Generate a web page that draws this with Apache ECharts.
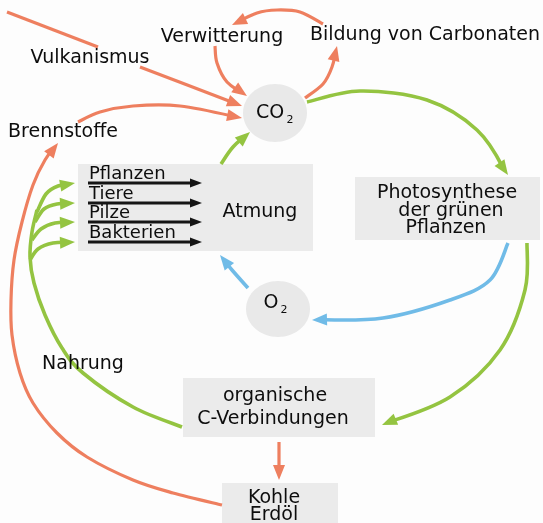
<!DOCTYPE html>
<html><head><meta charset="utf-8">
<script src="https://cdn.jsdelivr.net/npm/echarts@6/dist/echarts.min.js"></script>
<style>html,body{margin:0;padding:0;background:#fff}#c{width:543px;height:523px}</style>
</head><body><div id="c"></div>
<script>
// ---- diagram content (diagram coordinates = pixel grid of the 543x523 picture) ----
const boxNames = ["Atmung", "Photosynthese", "organische C-Verbindungen", "Kohle/Erdöl"];
const boxRects = [[78,164,313,251],[355,177,540,240],[183,378,375,437],[222,483,338,523]];
const circleNames = ["CO2", "O2"];
const circleShapes = [[275,113,32,29],[278,309,32,28]];

const textLabels = ["Verwitterung","Bildung von Carbonaten","Vulkanismus","Brennstoffe","Atmung",
  "Photosynthese","der grünen","Pflanzen","Nahrung","organische","C-Verbindungen","Kohle","Erdöl","CO","O"];
const textPos = [[222,37],[425,35],[90,58],[63,132],[260,212],[447,193],[451,211],[446,228],
  [83,364],[275,396],[273,419],[274,498],[274,515],[270,113],[271,303]];
const subLabels = ["2","2"];
const subPos = [[290,120],[284,310]];

const organisms = ["Pflanzen","Tiere","Pilze","Bakterien"];
const organismRows = [183,203,222,242];

const orangeArrows = [
  [[323,24],[300,12],[277,10],[257,13],[232,25]],
  [[215,46],[217,63],[227,82],[247,96]],
  [[305,98],[323,84],[332,67],[337,46]],
  [[140,67],[242,106]],
  [[78,122],[100,112],[133,106],[180,106],[242,118]],
  [[222,505],[173,493],[133,480],[87,457],[57,433],[33,403],[20,373],[12,335],[11,300],[14,260],[22,222],[33,185],[45,160],[58,143]],
  [[279,442],[279,480]]
];
const orangeLines = [ [[7,12],[98,47]] ];
const greenArrows = [
  [[307,102],[360,91],[427,100],[477,130],[508,175]],
  [[221,164],[233,147],[250,132]],
  [[527,243],[525,290],[500,350],[450,397],[382,425]],
  [[37,212],[46,194],[58,186],[75,183]],
  [[35,222],[44,209],[57,204],[75,203]],
  [[32,240],[41,229],[55,223],[75,222]],
  [[30,260],[38,249],[53,243],[75,242]]
];
const greenLines = [ [[182,427],[133,407],[83,373],[62,348],[45,315],[34,283],[30,257],[32,232],[37,210]] ];
const blueArrows = [
  [[508,243],[490,280],[450,300],[383,318],[312,320]],
  [[248,288],[232,270],[220,255]]
];

// ---- styles ----
const C_OR = '#ee7f5f', C_GR = '#94c441', C_BL = '#70bbe7', C_BK = '#151515', C_TX = '#0d0d0d';
const FONT = 'DejaVu Sans';

const specs = [];
orangeArrows.forEach(p => specs.push({p, c:C_OR, w:3.2, head:true, L:15, W:12}));
orangeLines.forEach(p => specs.push({p, c:C_OR, w:3.2, head:false}));
greenArrows.forEach(p => specs.push({p, c:C_GR, w:3.6, head:true, L:15, W:12}));
greenLines.forEach(p => specs.push({p, c:C_GR, w:3.6, head:false}));
blueArrows.forEach(p => specs.push({p, c:C_BL, w:3.6, head:true, L:15, W:12}));
organismRows.forEach(y => specs.push({p:[[88,y],[202,y]], c:C_BK, w:2.8, head:true, L:12, W:9}));

function buildArrow(pts, s){
  const n = pts.length, segs = [];
  for (let i = 0; i < n-1; i++){
    const p0 = pts[Math.max(i-1,0)], p1 = pts[i], p2 = pts[i+1], p3 = pts[Math.min(i+2,n-1)];
    segs.push([[p1[0]+(p2[0]-p0[0])/6, p1[1]+(p2[1]-p0[1])/6],
               [p2[0]-(p3[0]-p1[0])/6, p2[1]-(p3[1]-p1[1])/6], p2.slice()]);
  }
  const children = [];
  if (s.head){
    const last = segs[segs.length-1], tip = last[2];
    let dx = tip[0]-last[1][0], dy = tip[1]-last[1][1];
    const len = Math.hypot(dx,dy) || 1; dx /= len; dy /= len;
    const base = [tip[0]-dx*s.L, tip[1]-dy*s.L];
    const pts3 = [tip.slice(), [base[0]-dy*s.W/2, base[1]+dx*s.W/2], [base[0]+dy*s.W/2, base[1]-dx*s.W/2]];
    last[2] = [tip[0]-dx*s.L*0.6, tip[1]-dy*s.L*0.6];
    children.push({type:'polygon', z2:2, shape:{points:pts3}, style:{fill:s.c}});
  }
  let d = 'M' + pts[0][0] + ' ' + pts[0][1];
  segs.forEach(g => { d += ' C' + g[0][0] + ' ' + g[0][1] + ' ' + g[1][0] + ' ' + g[1][1] + ' ' + g[2][0] + ' ' + g[2][1]; });
  children.unshift({type:'path', z2:1, shape:{pathData:d}, style:{stroke:s.c, lineWidth:s.w, fill:null, lineCap:'butt'}});
  return children;
}

const chart = echarts.init(document.getElementById('c'));
chart.setOption({
  backgroundColor: '#fdfdfd',
  animation: false,
  grid: {left:0, right:0, top:0, bottom:0},
  xAxis: {type:'value', min:0, max:543, show:false},
  yAxis: {type:'value', min:0, max:523, inverse:true, show:false},
  series: [
    { name:'boxes', type:'custom', coordinateSystem:'cartesian2d', clip:false, z:1,
      data: boxRects.map((r,i)=>[i,0]),
      renderItem(params, api){
        const r = boxRects[api.value(0)];
        const a = api.coord([r[0],r[1]]), b = api.coord([r[2],r[3]]);
        return {type:'rect', shape:{x:a[0], y:a[1], width:b[0]-a[0], height:b[1]-a[1]}, style:{fill:'#ebebeb'}};
      } },
    { name:'circles', type:'custom', coordinateSystem:'cartesian2d', clip:false, z:1,
      data: circleShapes.map((c,i)=>[i,0]),
      renderItem(params, api){
        const c = circleShapes[api.value(0)];
        const o = api.coord([c[0],c[1]]), e = api.coord([c[0]+c[2], c[1]+c[3]]);
        return {type:'ellipse', shape:{cx:o[0], cy:o[1], rx:e[0]-o[0], ry:e[1]-o[1]}, style:{fill:'#e9e9e9'}};
      } },
    { name:'arrows', type:'custom', coordinateSystem:'cartesian2d', clip:false, z:3,
      data: specs.map((s,i)=>[i,0]),
      renderItem(params, api){
        const s = specs[api.value(0)];
        const pts = s.p.map(q => api.coord(q));
        return {type:'group', children: buildArrow(pts, s)};
      } },
    { name:'labels', type:'custom', coordinateSystem:'cartesian2d', clip:false, z:5,
      data: textLabels.map((t,i)=>[i,0]),
      renderItem(params, api){
        const i = api.value(0), p = api.coord(textPos[i]);
        return {type:'text', x:p[0], y:p[1], style:{text:textLabels[i], fill:C_TX, fontFamily:FONT, fontSize:19, align:'center', verticalAlign:'middle'}};
      } },
    { name:'subscripts', type:'custom', coordinateSystem:'cartesian2d', clip:false, z:5,
      data: subLabels.map((t,i)=>[i,0]),
      renderItem(params, api){
        const i = api.value(0), p = api.coord(subPos[i]);
        return {type:'text', x:p[0], y:p[1], style:{text:subLabels[i], fill:C_TX, fontFamily:FONT, fontSize:11, align:'center', verticalAlign:'middle'}};
      } },
    { name:'organisms', type:'custom', coordinateSystem:'cartesian2d', clip:false, z:5,
      data: organisms.map((t,i)=>[i,0]),
      renderItem(params, api){
        const i = api.value(0), p = api.coord([89, organismRows[i]-9]);
        return {type:'text', x:p[0], y:p[1], style:{text:organisms[i], fill:C_TX, fontFamily:FONT, fontSize:18, align:'left', verticalAlign:'middle'}};
      } }
  ]
});
</script></body></html>
